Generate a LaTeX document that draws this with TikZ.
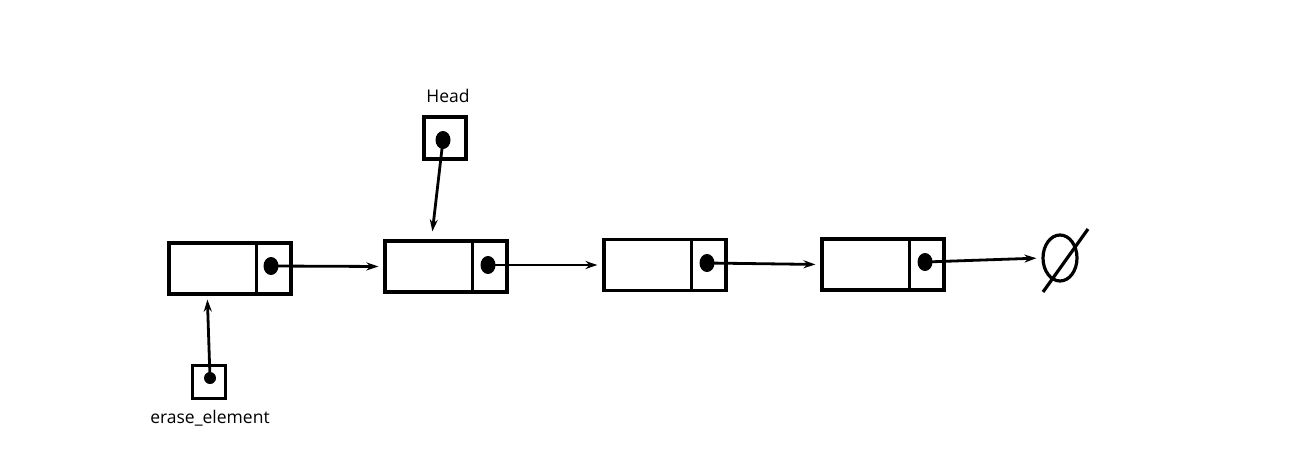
\documentclass[tikz,border=0pt]{standalone}
\usepackage{fontspec}
\setmainfont{Open Sans}
\usetikzlibrary{shapes.geometric,arrows.meta,calc}
\begin{document}
\begin{tikzpicture}[x=1pt,y=-1pt,line width=3.2pt,
  listnode/.style={draw,rectangle,minimum width=122pt,minimum height=51pt,inner sep=0pt},
  ptrbox/.style={draw,rectangle,inner sep=0pt},
  ptrdot/.style={ellipse,fill=black,draw=none,minimum width=15pt,minimum height=18pt,inner sep=0pt},
  link/.style={-{Stealth[length=12pt,width=8pt]},line width=2.8pt,shorten >=5pt},
  lbl/.style={font=\fontsize{17.5}{21}\selectfont,inner sep=0pt}]
\useasboundingbox (0,0) rectangle (1311,460);

% list cells
\node[listnode] (n1) at (230,268.5) {};
\node[listnode] (n2) at (446,266.5) {};
\node[listnode] (n3) at (665,265) {};
\node[listnode] (n4) at (883,264.5) {};
\foreach \n in {n1,n2,n3,n4}
  \draw ($(\n.north east)+(-36,0)$) -- ($(\n.south east)+(-36,0)$);

% next pointers
\node[ptrdot] (d1) at (271,266) {};
\node[ptrdot] (d2) at (488,265) {};
\node[ptrdot] (d3) at (707,263) {};
\node[ptrdot] (d4) at (925,262) {};

% null terminator
\node[draw,ellipse,minimum width=34pt,minimum height=46pt,inner sep=0pt] (null) at (1060,258) {};
\coordinate (s1) at (1043,292);
\coordinate (s2) at (1088,229);
\draw (s1) -- (s2);

\draw[link] (d1.center) -- (n2.west);
\draw[link] (d2.center) -- (n3.west);
\draw[link] (d3.center) -- (n4.west);
\draw[link] (d4.center) -- (null.west);

% head pointer
\node[ptrbox,minimum size=42pt] (hb) at (445,138) {};
\node[ptrdot] (hd) at (443,140) {};
\node[lbl] (hl) at (448,96) {Head};
\coordinate (ht) at ($(n2.north west)+(49,-8)$);
\draw[link,shorten >=0pt] (hd.center) -- (ht);

% erase_element pointer
\node[ptrbox,minimum size=33pt] (eb) at (209,382) {};
\node[ptrdot,minimum width=12pt,minimum height=12pt] (ed) at (210,378) {};
\node[lbl] (el) at (210,418) {erase\_element};
\coordinate (et) at ($(n1.south west)+(40,4)$);
\draw[link,shorten >=0pt] (ed.center) -- (et);
\end{tikzpicture}
\end{document}
